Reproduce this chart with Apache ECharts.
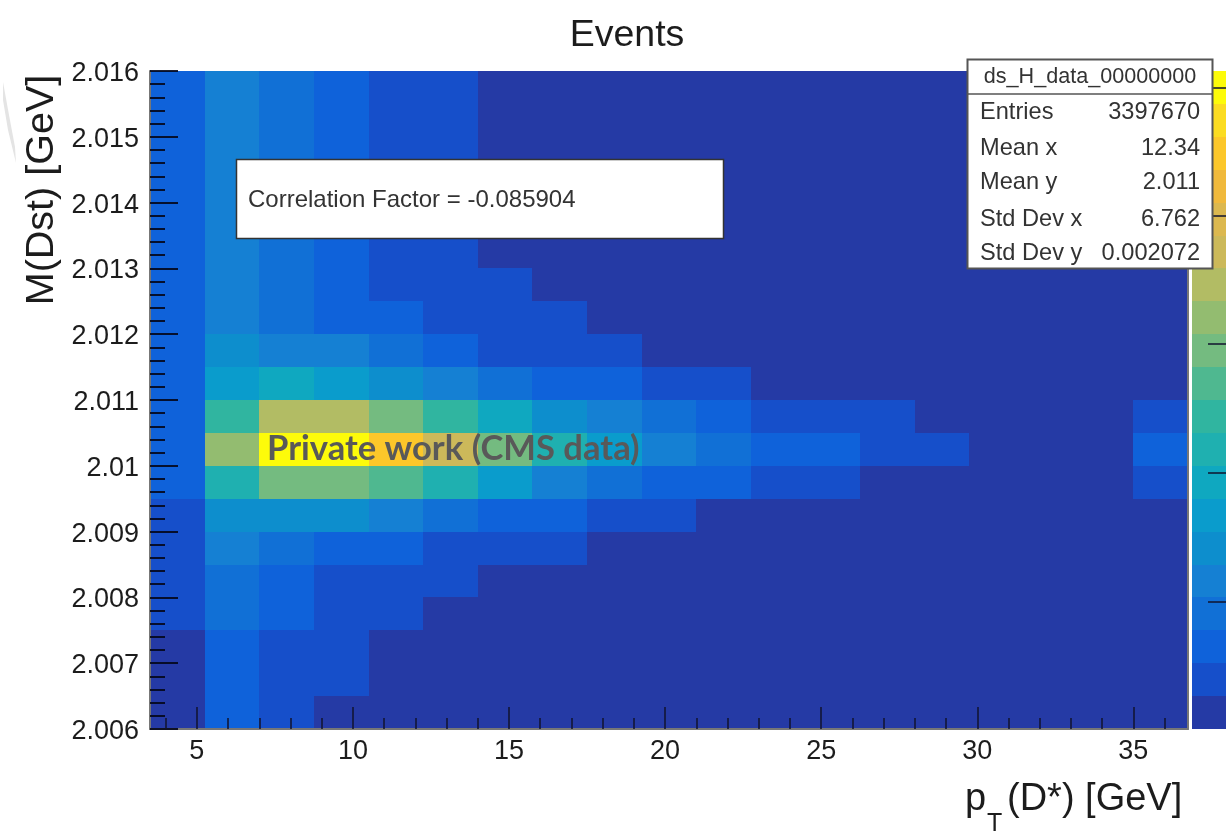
<!DOCTYPE html>
<html>
<head>
<meta charset="utf-8">
<style>html,body{margin:0;padding:0;background:#fff;overflow:hidden}#c{width:1226px;height:834px;filter:blur(0.6px)}</style>
<script src="https://cdn.jsdelivr.net/npm/echarts@6/dist/echarts.min.js"></script>
</head>
<body>
<div id="c"></div>
<script>
// Colour levels (bottom of the colour bar first)
const palette = ['#253aa5','#164fca','#0f62da','#1170d6','#1580d3','#0d8ecd','#0a9ccc','#0fa8c0','#1fb0b0','#30b5a0',
                 '#4fb890','#74bb80','#93bc70','#b2bc64','#ccb95a','#dcb84f','#f0b93c','#fcc72a','#fbdc22','#fdfb0a'];
// Histogram binning
const xMin = 3.5, xMax = 36.75, xBin = 1.75;
const yMin = 2.006, yMax = 2.016, yBin = 0.0005;
const xMajor = [5,10,15,20,25,30,35];
const xMinor = [4,6,7,8,9,11,12,13,14,16,17,18,19,21,22,23,24,26,27,28,29,31,32,33,34,36];
const zTicks = [3.86,7.78,11.7,15.6,19.5];
// Cell levels, one array per row, top row (2.016) first; 19 columns from pT = 3.5
const row00 = [2,4,3,2,1,1,0,0,0,0,0,0,0,0,0,0,0,0,0];
const row01 = [2,4,3,2,1,1,0,0,0,0,0,0,0,0,0,0,0,0,0];
const row02 = [2,4,3,2,1,1,0,0,0,0,0,0,0,0,0,0,0,0,0];
const row03 = [2,4,3,2,1,1,0,0,0,0,0,0,0,0,0,0,0,0,0];
const row04 = [2,4,3,2,1,1,0,0,0,0,0,0,0,0,0,0,0,0,0];
const row05 = [2,4,3,2,1,1,0,0,0,0,0,0,0,0,0,0,0,0,0];
const row06 = [2,4,3,2,1,1,1,0,0,0,0,0,0,0,0,0,0,0,0];
const row07 = [2,4,3,2,2,1,1,1,0,0,0,0,0,0,0,0,0,0,0];
const row08 = [2,5,4,4,3,2,1,1,1,0,0,0,0,0,0,0,0,0,0];
const row09 = [2,6,7,6,5,4,3,2,2,1,1,0,0,0,0,0,0,0,0];
const row10 = [2,9,13,13,11,9,7,5,4,3,2,1,1,1,0,0,0,0,1];
const row11 = [2,12,19,19,17,14,11,8,6,4,3,2,2,1,1,0,0,0,2];
const row12 = [2,8,11,11,10,8,6,4,3,2,2,1,1,0,0,0,0,0,1];
const row13 = [1,5,5,5,4,3,2,2,1,1,0,0,0,0,0,0,0,0,0];
const row14 = [1,4,3,2,2,1,1,1,0,0,0,0,0,0,0,0,0,0,0];
const row15 = [1,3,2,1,1,1,0,0,0,0,0,0,0,0,0,0,0,0,0];
const row16 = [1,3,2,1,1,0,0,0,0,0,0,0,0,0,0,0,0,0,0];
const row17 = [0,2,1,1,0,0,0,0,0,0,0,0,0,0,0,0,0,0,0];
const row18 = [0,2,1,1,0,0,0,0,0,0,0,0,0,0,0,0,0,0,0];
const row19 = [0,2,1,0,0,0,0,0,0,0,0,0,0,0,0,0,0,0,0];
const rows = [row00,row01,row02,row03,row04,row05,row06,row07,row08,row09,row10,row11,row12,row13,row14,row15,row16,row17,row18,row19];
// Text content
const statLabels = ['Entries','Mean x','Mean y','Std Dev x','Std Dev y'];
const statValues = ['3397670','12.34','2.011','6.762','0.002072'];
const statTitle = 'ds_H_data_00000000';
const corrText = 'Correlation Factor = -0.085904';

const SANS = '"Liberation Sans", Arial, sans-serif';
const INK = '#1c1c1c';
const cells = [];
rows.forEach((r, ri) => r.forEach((lv, ci) => cells.push([xMin + ci * xBin, yMax - ri * yBin, lv])));
const barCells = palette.map((_, i) => [i, palette.length]);

function snapRect(a, b) {
  const x = Math.round(a[0]), y = Math.round(a[1]);
  return {x, y, width: Math.round(b[0]) - x, height: Math.round(b[1]) - y};
}
function renderCell(params, api) {
  const x = api.value(0), y = api.value(1), lv = api.value(2);
  return {type: 'rect', shape: snapRect(api.coord([x, y]), api.coord([x + xBin, y - yBin])), style: {fill: palette[lv]}};
}
function renderBand(params, api) {
  const lv = api.value(0);
  return {type: 'rect', shape: snapRect(api.coord([0, lv + 1]), api.coord([1, lv])), style: {fill: palette[lv]}};
}
function label(text, x, y, size, extra) {
  return {type: 'text', x, y, z: 100, style: Object.assign({text, fontFamily: SANS, fontSize: size, fill: INK, align: 'left', verticalAlign: 'middle'}, extra || {})};
}
const statRowY = [112, 148, 182, 219, 253];
const graphics = [
  {type: 'polygon', z: 1, shape: {points: [[3,82],[9,115],[15,147],[16,163],[8,130],[3,100]]}, style: {fill: '#e4e4e4'}},
  {type: 'rect', z: 99, shape: {x: 236.5, y: 159.5, width: 487, height: 79}, style: {fill: '#fff', stroke: '#333', lineWidth: 1.5}},
  label(corrText, 248, 200, 24, {fill: '#333'}),
  {type: 'rect', z: 99, shape: {x: 967.5, y: 59.5, width: 245, height: 209}, style: {fill: '#fff', stroke: '#555', lineWidth: 2}},
  {type: 'line', z: 100, shape: {x1: 968, y1: 94, x2: 1212, y2: 94}, style: {stroke: '#555', lineWidth: 1.5}},
  label(statTitle, 1090, 77, 21.6, {align: 'center', fill: '#333'}),
  label('p', 965, 800, 38, {}),
  label('T', 987, 824, 25, {}),
  label('(D*) [GeV]', 1007, 800, 38, {}),
  Object.assign(label('M(Dst) [GeV]', 42, 190, 39.5, {align: 'center'}), {rotation: Math.PI / 2}),
  label('Private work (CMS data)', 267, 449, 34.6, {fontFamily: 'Lato, "Open Sans", sans-serif', fontWeight: 'bold', fill: '#595959'})
];
statLabels.forEach((t, i) => {
  graphics.push(label(t, 980, statRowY[i], 23.6, {fill: '#333'}));
  graphics.push(label(statValues[i], 1200, statRowY[i], 23.6, {align: 'right', fill: '#333'}));
});

const chart = echarts.init(document.getElementById('c'), null, {renderer: 'canvas'});
chart.setOption({
  animation: false,
  backgroundColor: '#fff',
  title: {text: 'Events', left: 622, top: 12, textAlign: 'center',
    textStyle: {fontFamily: SANS, fontWeight: 'normal', fontSize: 37.5, color: INK}},
  grid: [
    {left: 150, top: 71, width: 1038, height: 658, outerBoundsMode: 'none'},
    {left: 1192, top: 71, width: 34, height: 658, outerBoundsMode: 'none'}
  ],
  xAxis: [
    {type: 'value', gridIndex: 0, position: 'bottom', min: xMin, max: xMax, z: 10, splitLine: {show: false},
      axisLine: {show: true, onZero: false, lineStyle: {color: '#777', width: 2}},
      axisTick: {show: true, inside: true, length: 22, customValues: xMajor, lineStyle: {color: '#10132e', width: 1.5}},
      axisLabel: {show: true, customValues: xMajor, margin: 9, fontFamily: SANS, fontSize: 27, color: INK}},
    {type: 'value', gridIndex: 0, position: 'bottom', min: xMin, max: xMax, z: 10, splitLine: {show: false},
      axisLine: {show: false, onZero: false},
      axisTick: {show: true, inside: true, length: 11, customValues: xMinor, lineStyle: {color: '#10132e', width: 1.5}},
      axisLabel: {show: false}},
    {type: 'value', gridIndex: 1, min: 0, max: 1, show: false}
  ],
  yAxis: [
    {type: 'value', gridIndex: 0, position: 'left', min: yMin, max: yMax, interval: 0.001, z: 10, splitLine: {show: false},
      axisLine: {show: true, onZero: false, lineStyle: {color: '#777', width: 2}},
      axisTick: {show: true, inside: true, length: 28, lineStyle: {color: '#05071a', width: 1.8}},
      minorTick: {show: true, splitNumber: 5, length: 15, lineStyle: {color: '#05071a', width: 1.8}},
      minorSplitLine: {show: false},
      axisLabel: {show: true, margin: 11, verticalAlign: 'top', lineHeight: 5, fontFamily: SANS, fontSize: 27, color: INK}},
    {type: 'value', gridIndex: 0, min: yMin, max: yMax, position: 'right', z: 10, splitLine: {show: false},
      axisLine: {show: true, onZero: false, lineStyle: {color: '#777', width: 2}},
      axisTick: {show: false}, axisLabel: {show: false}},
    {type: 'value', gridIndex: 1, min: 0, max: palette.length, position: 'right', z: 10, splitLine: {show: false},
      axisLine: {show: false, onZero: false},
      axisTick: {show: true, inside: true, length: 18, customValues: zTicks, lineStyle: {color: '#10132e', width: 1.5}},
      axisLabel: {show: false}}
  ],
  series: [
    {type: 'custom', xAxisIndex: 0, yAxisIndex: 0, renderItem: renderCell, data: cells, silent: true, clip: true},
    {type: 'custom', xAxisIndex: 2, yAxisIndex: 2, renderItem: renderBand, data: barCells, silent: true, clip: true}
  ],
  graphic: graphics
});
</script>
</body>
</html>
